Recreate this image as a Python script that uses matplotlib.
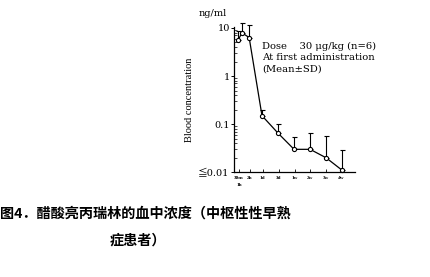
import matplotlib.pyplot as plt
import numpy as np

plt.rcParams['font.family'] = ['DejaVu Serif', 'Liberation Serif']

# sampling slots (axis units, not to scale in time)
t_pos = [0.25, 0.5, 0.95, 1.75, 2.75, 3.75, 4.75, 5.75, 6.75]
conc_mean = [5.5, 7.9, 6.3, 0.15, 0.065, 0.030, 0.030, 0.020, 0.011]
conc_top = [8.6, 12.9, 11.5, 0.2, 0.1, 0.054, 0.067, 0.056, 0.029]

tick_pos = [0.32, 1.0, 1.8, 2.8, 3.8, 4.75, 5.75, 6.7]
tick_labels = ['30m\n1h', '2h', '1d', '3d', '1w', '2w', '3w', '4w']

fig = plt.figure(figsize=(4.3, 2.77), dpi=100)
ax = fig.add_axes([0.544, 0.378, 0.282, 0.525])

err_up = np.array(conc_top) - np.array(conc_mean)
ax.errorbar(t_pos, conc_mean, yerr=[np.zeros(len(err_up)), err_up],
            color='black', lw=0.9, elinewidth=0.8, capsize=1.8, capthick=0.8,
            marker='o', ms=3.0, mfc='white', mec='black', mew=0.8, clip_on=False)

ax.set_yscale('log')
ax.set_ylim(0.01, 10.5)
ax.set_xlim(0, 7.56)
ax.set_yticks([10, 1, 0.1, 0.01])
ax.set_yticklabels(['10', '1', '0.1', '≦0.01'], fontsize=7,
                   family=['DejaVu Serif', 'Noto Sans CJK SC'])
ax.set_xticks(tick_pos)
ax.set_xticklabels(tick_labels, fontsize=3.8, fontweight='bold', linespacing=2.0,
                   family='Liberation Serif')
ax.tick_params(axis='y', which='major', direction='out', length=2, width=0.7, pad=1)
ax.tick_params(axis='y', which='minor', direction='in', length=2, width=0.5)
ax.tick_params(axis='x', direction='in', length=2, width=0.6, pad=3)

for s in ['top', 'right']:
    ax.spines[s].set_visible(False)
for s in ['left', 'bottom']:
    ax.spines[s].set_linewidth(0.9)

ax.set_ylabel('Blood concentration', fontsize=7.5, family='Liberation Serif')
ax.yaxis.set_label_coords(-0.33, 0.5)
fig.text(0.463, 0.95, 'ng/ml', fontsize=7, va='center')

ax.text(0.231, 0.9, 'Dose    30 μg/kg (n=6)\nAt first administration\n(Mean±SD)',
        transform=ax.transAxes, fontsize=7.2, va='top', linespacing=1.35)

fig.text(0.0, 0.228, '图4．醋酸亮丙瑞林的血中浓度（中枢性性早熟',
         fontsize=10.2, fontweight='bold', family=['Noto Sans CJK SC'], va='center')
fig.text(0.255, 0.13, '症患者）',
         fontsize=10.2, fontweight='bold', family=['Noto Sans CJK SC'], va='center')

fig.savefig('out.png', dpi=100)
